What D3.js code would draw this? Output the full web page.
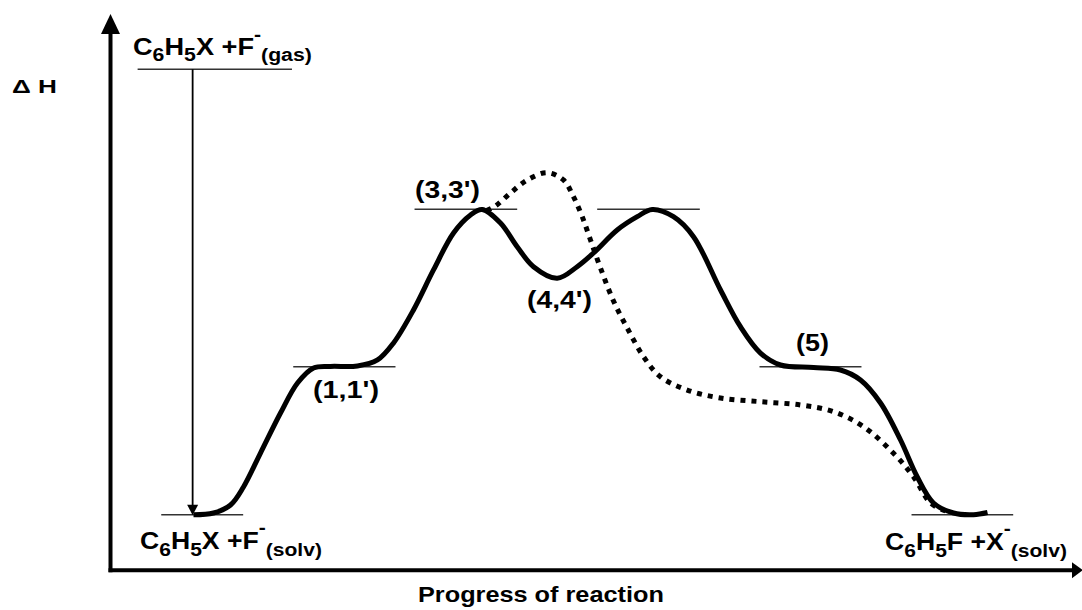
<!DOCTYPE html>
<html>
<head>
<meta charset="utf-8">
<script src="https://cdn.jsdelivr.net/npm/d3@7"></script>
<style>
  html, body { margin: 0; padding: 0; background: #fff; }
  svg { display: block; }
</style>
</head>
<body>
<svg id="chart" width="1082" height="610"></svg>
<script>
// ---------------- DATA (reaction coordinate 0-100, enthalpy 0-100 arbitrary units) ----------------
const solidX = [8.54, 10.60, 12.35, 13.68, 15.43, 17.49, 19.24, 20.89, 22.63, 25.41, 27.47, 29.12, 31.17,
  33.23, 35.29, 37.04, 38.24, 40.12, 41.84, 43.52, 45.96, 48.01, 49.69, 52.13, 54.19, 55.73, 57.92,
  59.98, 62.76, 64.81, 66.87, 68.93, 72.33, 75.10, 77.16, 79.22, 81.28, 82.99, 84.67, 86.73, 88.79, 90.23];
const solidH = [0.0, 0.38, 2.18, 6.22, 13.85, 22.83, 29.57, 32.94, 33.30, 33.40, 34.74, 38.56, 45.96,
  54.95, 63.25, 67.29, 68.52, 65.49, 60.17, 55.68, 53.08, 55.68, 58.76, 63.92, 66.91, 68.52, 66.91,
  62.42, 50.45, 42.21, 36.30, 33.61, 33.05, 32.49, 30.24, 25.08, 16.77, 8.53, 2.63, 0.38, 0.0, 0.49];

const dottedX = [38.68, 39.61, 41.15, 42.87, 44.93, 46.60, 47.63, 48.53, 49.38, 50.41, 51.75, 53.16,
  54.84, 56.58, 59.33, 62.76, 66.87, 70.99, 74.38, 77.47, 80.53, 82.61, 84.36, 85.91];
const dottedH = [68.30, 69.31, 72.23, 75.15, 76.78, 75.15, 71.40, 66.91, 61.68, 55.39, 47.98, 41.92,
  35.47, 30.98, 27.99, 26.20, 25.37, 24.63, 23.13, 19.76, 13.85, 8.53, 2.63, 0.83];

// Energy levels (horizontal reference bars)
const levelStart = [2.79, 5.22, 18.80, 31.28, 50.07, 66.77, 82.41];
const levelEnd   = [18.67, 13.65, 29.32, 41.84, 60.63, 77.26, 92.87];
const levelH     = [100, 0, 33.2, 68.6, 68.6, 33.2, 0];

// Vertical solvation arrow (from gas level down to solvated level)
const arrowX = 8.45;
const arrowFrom = 100, arrowTo = 0;

// Texts
const yAxisTitle = "\u0394 H";
const xAxisTitle = "Progress of reaction";
const pointLabels = ["(1,1')", "(3,3')", "(4,4')", "(5)"];
const speciesLabels = [
  [["C","n"],["6","sub"],["H","n"],["5","sub"],["X +F","n"],["-","sup"],["(gas)","sub"]],
  [["C","n"],["6","sub"],["H","n"],["5","sub"],["X +F","n"],["-","sup"],["(solv)","sub"]],
  [["C","n"],["6","sub"],["H","n"],["5","sub"],["F +X","n"],["-","sup"],["(solv)","sub"]]
];

// ---------------- LAYOUT ----------------
const FONT = "'Liberation Sans', Arial, Helvetica, sans-serif";
const svg = d3.select("#chart");
const x = d3.scaleLinear().domain([0, 100]).range([110.5, 1082.5]);
const y = d3.scaleLinear().domain([0, 100]).range([514.7, 69.3]);
const xAxisH = -12.45;   // enthalpy value where the x axis sits
const yTop = 112.4;      // top of y axis arrow
const xRight = 100.05;   // tip of x axis arrow

// Axes
const axes = svg.append("g");
axes.append("line")
  .attr("x1", x(0)).attr("x2", x(0))
  .attr("y1", y(xAxisH) + 2).attr("y2", y(yTop) + 18)
  .attr("stroke", "#000").attr("stroke-width", 4);
axes.append("path")
  .attr("d", `M${x(0)},${y(yTop)} L${x(0) - 9.5},${y(yTop) + 20} L${x(0) + 9.5},${y(yTop) + 20} Z`)
  .attr("fill", "#000");
axes.append("line")
  .attr("x1", x(0) - 2).attr("x2", x(xRight) - 10)
  .attr("y1", y(xAxisH)).attr("y2", y(xAxisH))
  .attr("stroke", "#000").attr("stroke-width", 4);
axes.append("path")
  .attr("d", `M${x(xRight)},${y(xAxisH)} L${x(xRight) - 11},${y(xAxisH) - 8} L${x(xRight) - 11},${y(xAxisH) + 8} Z`)
  .attr("fill", "#000");

// Level bars
svg.append("g").selectAll("line").data(levelH).join("line")
  .attr("x1", (d, i) => x(levelStart[i]))
  .attr("x2", (d, i) => x(levelEnd[i]))
  .attr("y1", d => y(d)).attr("y2", d => y(d))
  .attr("stroke", "#333").attr("stroke-width", 1.5);

// Vertical arrow
svg.append("line")
  .attr("x1", x(arrowX)).attr("x2", x(arrowX))
  .attr("y1", y(arrowFrom)).attr("y2", y(arrowTo) - 9)
  .attr("stroke", "#000").attr("stroke-width", 1.8);
svg.append("path")
  .attr("d", `M${x(arrowX)},${y(arrowTo) + 0.5} L${x(arrowX) - 5.5},${y(arrowTo) - 10} L${x(arrowX) + 5.5},${y(arrowTo) - 10} Z`)
  .attr("fill", "#000");

// Curves
const line = d3.line().curve(d3.curveCatmullRom.alpha(0.5)).x(d => x(d[0])).y(d => y(d[1]));
svg.append("path")
  .datum(dottedX.map((v, i) => [v, dottedH[i]]))
  .attr("d", line)
  .attr("fill", "none").attr("stroke", "#000").attr("stroke-width", 5)
  .attr("stroke-dasharray", "5,6");
svg.append("path")
  .datum(solidX.map((v, i) => [v, solidH[i]]))
  .attr("d", line)
  .attr("fill", "none").attr("stroke", "#000").attr("stroke-width", 5)
  .attr("stroke-linecap", "butt");

// Text helper: fits a (possibly sub/superscripted) label into [x0, x1] at the given baseline
function fitLabel(parts, x0, x1, base, size) {
  const t = svg.append("text")
    .attr("font-family", FONT).attr("font-weight", "bold")
    .attr("font-size", size).attr("fill", "#000")
    .attr("x", 0).attr("y", 0);
  let cur = 0;
  const subSize = Math.round(size * 0.8);
  parts.forEach(([txt, kind]) => {
    let target = 0, fs = size;
    if (kind === "sub") { target = size * 0.28; fs = subSize; }
    if (kind === "sup") { target = -size * 0.62; fs = subSize; }
    t.append("tspan").attr("dy", target - cur).attr("font-size", fs).text(txt);
    cur = target;
  });
  const bb = t.node().getBBox();
  const sx = (x1 - x0) / bb.width;
  t.attr("transform", `translate(${x0 - bb.x * sx},${base}) scale(${sx},1)`);
}

fitLabel(speciesLabels[0], 133, 312, 55, 23);
fitLabel(speciesLabels[1], 140, 322, 549, 24);
fitLabel(speciesLabels[2], 885, 1067, 550, 24);

const pointBoxes = [[313, 379, 398], [415, 480, 198], [527, 592, 308], [796, 829, 351]];
pointLabels.forEach((s, i) => fitLabel([[s, "n"]], pointBoxes[i][0], pointBoxes[i][1], pointBoxes[i][2], 24));

fitLabel([[yAxisTitle, "n"]], 12, 57, 93, 19);
fitLabel([[xAxisTitle, "n"]], 418, 664, 602, 22);
</script>
</body>
</html>
